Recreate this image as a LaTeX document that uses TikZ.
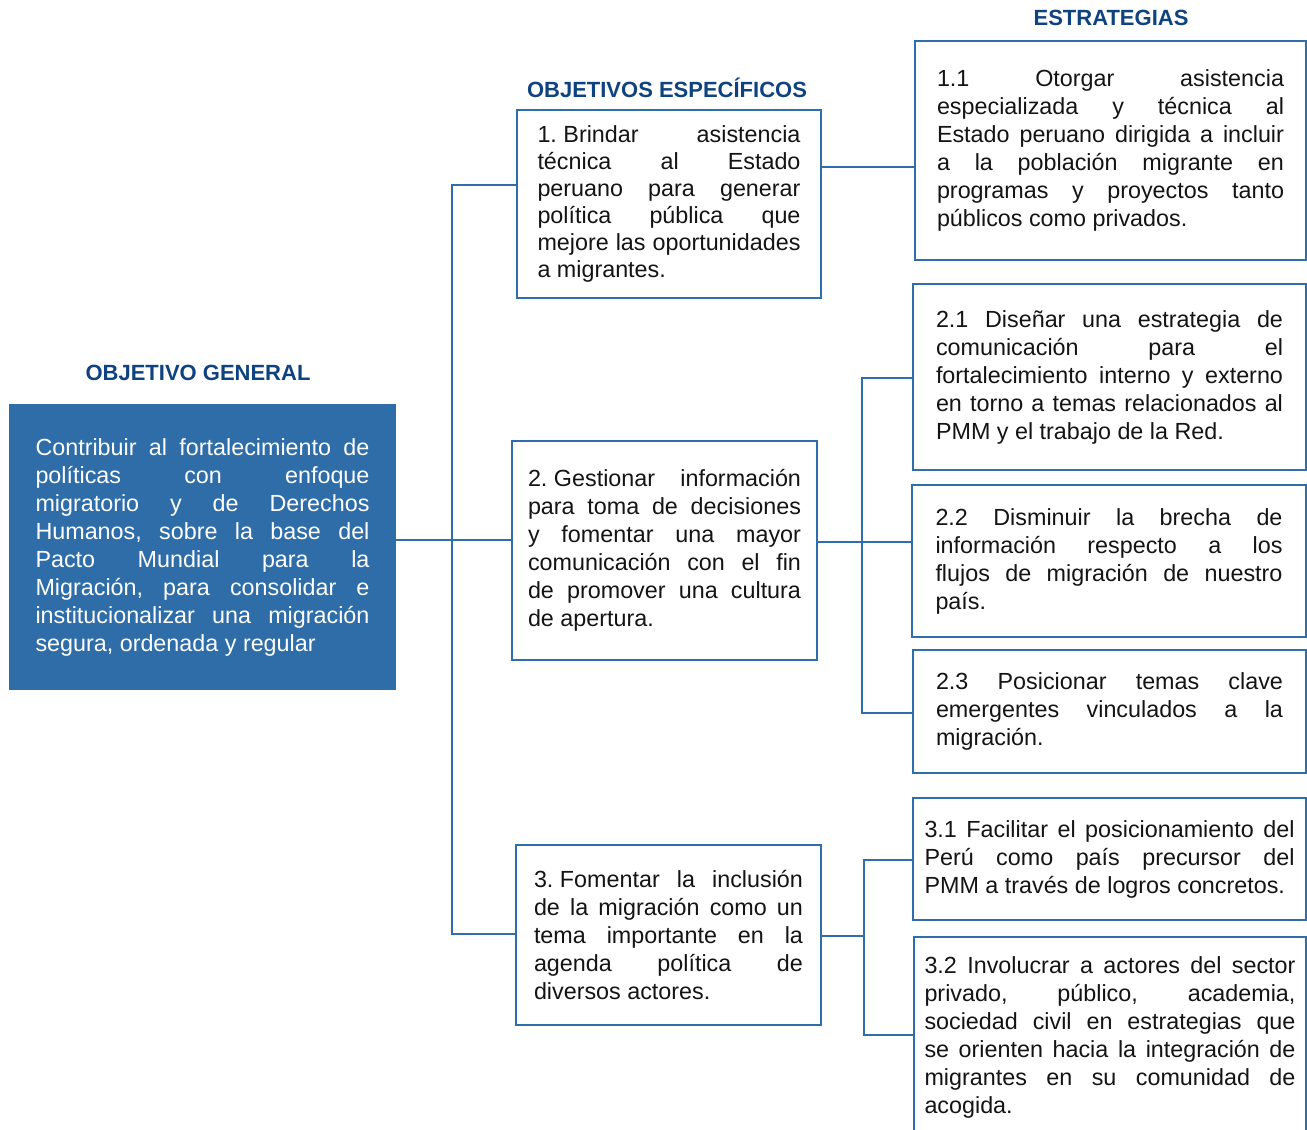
\documentclass[tikz,border=0pt]{standalone}
\usepackage{fontspec}
\setmainfont{Liberation Sans}
\tolerance=10000
\hbadness=10000
\hyphenpenalty=10000
\frenchspacing
\definecolor{genblue}{RGB}{46,109,168}
\definecolor{boxblue}{RGB}{46,110,172}
\definecolor{headblue}{RGB}{14,66,128}
\definecolor{textcol}{RGB}{20,20,20}
\newcommand{\fsp}{\hskip0.28em\relax}
\begin{document}
\begin{tikzpicture}[x=0.75pt,y=-0.75pt,
  box/.style={draw=boxblue, line width=1.6pt, fill=white, align=justify, text=textcol,
    font=\fontsize{17.5}{21}\selectfont\frenchspacing, inner sep=0pt},
  genbox/.style={draw=none, fill=genblue, align=justify, text=white,
    font=\fontsize{17.5}{21}\selectfont\frenchspacing, inner sep=0pt},
  heading/.style={font=\fontsize{16.5}{19}\selectfont\bfseries, text=headblue, inner sep=0pt},
  conn/.style={draw=boxblue, line width=1.3pt}]
\useasboundingbox (0,0) rectangle (1307,1129);
\clip (0,0) rectangle (1307,1129);

% headings
\node[heading] (hg) at (198,373) {OBJETIVO GENERAL};
\node[heading] (ho) at (667,88) {OBJETIVOS ESPECÍFICOS};
\node[heading] (he) at (1111,18) {ESTRATEGIAS};

% general objective
\node[genbox, text width=250.5pt, minimum width=290.25pt, minimum height=214.5pt] (gen) at (202.5,547)
{Contribuir al fortalecimiento de\linebreak políticas con enfoque\linebreak migratorio y de Derechos\linebreak Humanos, sobre la base del\linebreak Pacto Mundial para la\linebreak Migración, para consolidar e\linebreak institucionalizar una migración\linebreak segura, ordenada y regular};

% specific objectives
\node[box, font=\fontsize{17.5}{20.25}\selectfont\frenchspacing, text width=197.25pt, minimum width=228pt, minimum height=141pt] (o1) at (669,204)
{1.\fsp Brindar asistencia\linebreak técnica al Estado\linebreak peruano para generar\linebreak política pública que\linebreak mejore las oportunidades\linebreak a migrantes.};
\node[box, text width=204.75pt, minimum width=228.75pt, minimum height=164.25pt] (o2) at (664.5,550.5)
{2.\fsp Gestionar información\linebreak para toma de decisiones\linebreak y fomentar una mayor\linebreak comunicación con el fin\linebreak de promover una cultura\linebreak de apertura.};
\node[box, text width=201.75pt, minimum width=228.75pt, minimum height=135pt] (o3) at (668.5,935)
{3.\fsp Fomentar la inclusión\linebreak de la migración como un\linebreak tema importante en la\linebreak agenda política de\linebreak diversos actores.};

% strategies
\node[box, text width=260.25pt, minimum width=293.25pt, minimum height=164.25pt] (s11) at (1110.5,150.5)
{1.1 Otorgar asistencia\linebreak especializada y técnica al\linebreak Estado peruano dirigida a incluir\linebreak a la población migrante en\linebreak programas y proyectos tanto\linebreak públicos como privados.};
\node[box, text width=260.25pt, minimum width=294.75pt, minimum height=139.5pt] (s21) at (1109.5,377)
{2.1 Diseñar una estrategia de\linebreak comunicación para el\linebreak fortalecimiento interno y externo\linebreak en torno a temas relacionados al\linebreak PMM y el trabajo de la Red.};
\node[box, text width=260.25pt, minimum width=295.5pt, minimum height=114pt] (s22) at (1109,561)
{2.2 Disminuir la brecha de\linebreak información respecto a los\linebreak flujos de migración de nuestro\linebreak país.};
\node[box, text width=260.25pt, minimum width=294.75pt, minimum height=92.25pt] (s23) at (1109.5,711.5)
{2.3 Posicionar temas clave\linebreak emergentes vinculados a la\linebreak migración.};
\node[box, text width=277.5pt, minimum width=294.75pt, minimum height=91.5pt] (s31) at (1109.5,859)
{3.1 Facilitar el posicionamiento del\linebreak Perú como país precursor del\linebreak PMM a través de logros concretos.};
\node[box, text width=278.25pt, minimum width=294pt, minimum height=150pt] (s32) at (1110,1037)
{3.2 Involucrar a actores del sector\linebreak privado, público, academia,\linebreak sociedad civil en estrategias que\linebreak se orienten hacia la integración de\linebreak migrantes en su comunidad de\linebreak acogida.};

% connectors
\coordinate (g) at (0,540);
\draw[conn] (gen.east |- g) -- (o2.west |- g);
\coordinate (tA) at (452,185);
\coordinate (tB) at (452,934);
\draw[conn] (o1.west |- tA) -- (tA) -- (tB) -- (o3.west |- tB);
\coordinate (h1) at (0,167);
\draw[conn] (o1.east |- h1) -- (s11.west |- h1);
\coordinate (jA) at (862,378);
\coordinate (jB) at (862,713);
\coordinate (jC) at (862,542);
\draw[conn] (s21.west |- jA) -- (jA) -- (jB) -- (s23.west |- jB);
\draw[conn] (o2.east |- jC) -- (s22.west |- jC);
\coordinate (kA) at (864,860);
\coordinate (kB) at (864,1035);
\coordinate (kC) at (864,936);
\draw[conn] (s31.west |- kA) -- (kA) -- (kB) -- (s32.west |- kB);
\draw[conn] (o3.east |- kC) -- (kC);
\end{tikzpicture}
\end{document}
